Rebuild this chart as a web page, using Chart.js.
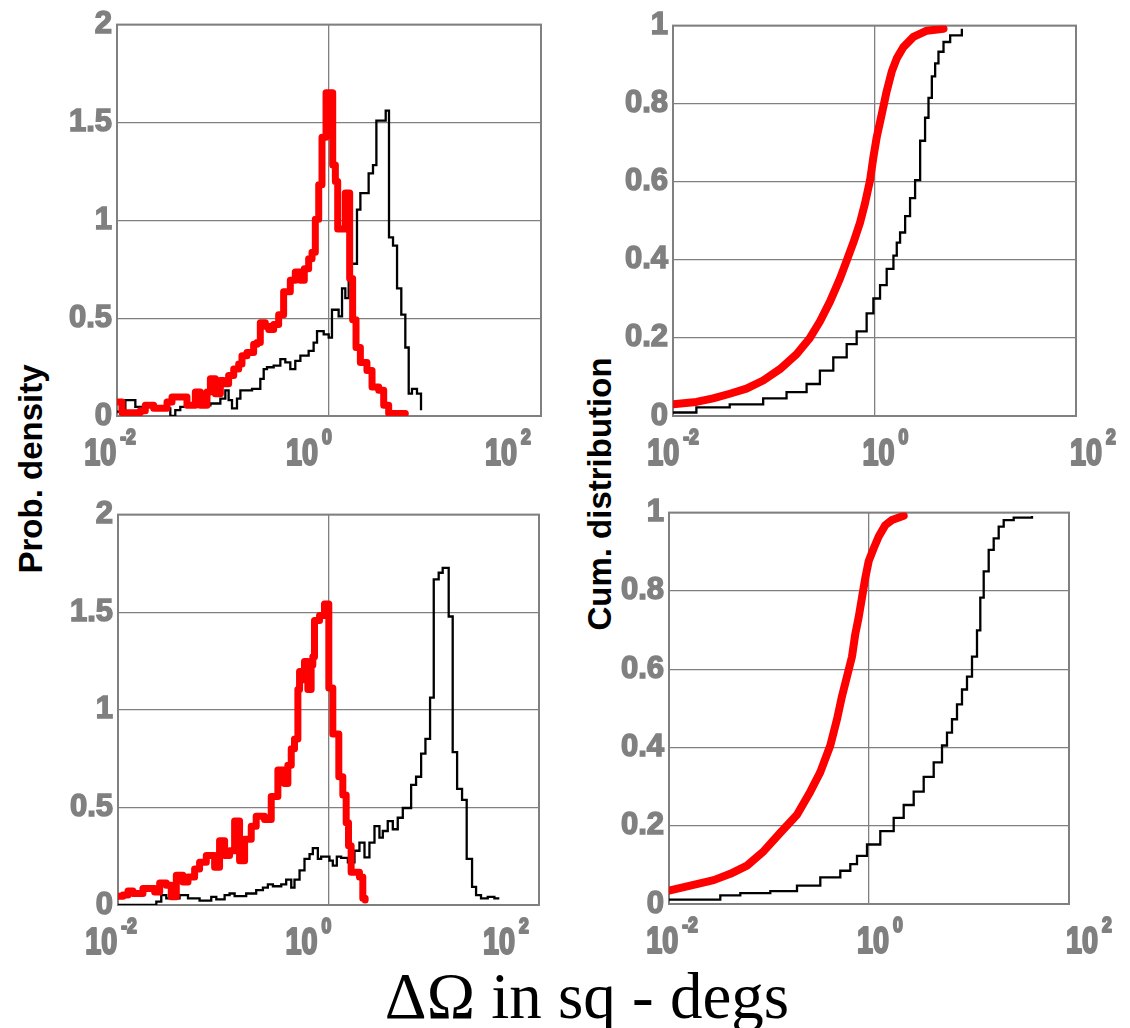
<!DOCTYPE html>
<html>
<head>
<meta charset="utf-8">
<script src="https://cdn.jsdelivr.net/npm/chart.js@4.4.1/dist/chart.umd.min.js"></script>
<style>
  body { margin: 0; background: #fff; width: 1130px; height: 1028px; position: relative; overflow: hidden; }
  canvas { position: absolute; }
  .ytitle {
    position: absolute; white-space: nowrap; line-height: 1;
    font: bold 33px "Liberation Sans", Arial, sans-serif; color: #000;
    transform: translate(-50%, -50%) rotate(-90deg);
  }
  #xtitle {
    position: absolute; left: 587px; top: 959px; white-space: nowrap; line-height: 1;
    font: 65px "Liberation Serif", "Times New Roman", serif; color: #000;
    transform: translateX(-50%);
  }
</style>
</head>
<body>
<div class="ytitle" style="left:31px; top:469px;">Prob. density</div>
<div class="ytitle" style="left:600px; top:494px;">Cum. distribution</div>
<div id="xtitle">ΔΩ in sq - degs</div>

<script>
// ─── Tick labels ──────────────────────────────────────────────────────
const X_TICK_VALUES = [0.01, 1, 100];
const X_TICK_EXPONENTS = ["-2", "0", "2"];
const PDF_Y_MAX = 2, PDF_Y_STEP = 0.5;
const CDF_Y_MAX = 1, CDF_Y_STEP = 0.2;

// ─── Data (x stored as log10 of ΔΩ) ───────────────────────────────────
// top-left: probability density
const tlBlackLogX = [-2.000,-1.921,-1.827,-1.748,-1.654,-1.497,-1.450,-1.403,-1.214,-1.119,-1.025,-0.978,-0.947,-0.915,-0.868,-0.836,-0.726,-0.648,-0.616,-0.585,-0.522,-0.459,-0.412,-0.365,-0.318,-0.270,-0.192,-0.145,-0.113,-0.050,-0.003,0.028,0.091,0.123,0.154,0.186,0.264,0.296,0.374,0.415,0.447,0.535,0.566,0.604,0.642,0.682,0.720,0.752,0.783,0.830,0.868];
const tlBlackY    = [0.022,0.081,0.047,0.055,0.039,0.0,0.030,0.047,0.055,0.064,0.089,0.131,0.081,0.039,0.089,0.131,0.139,0.190,0.240,0.249,0.257,0.291,0.274,0.240,0.282,0.308,0.333,0.375,0.434,0.417,0.400,0.543,0.509,0.652,0.602,0.778,1.055,1.139,1.240,1.282,1.509,1.560,0.913,0.871,0.652,0.518,0.350,0.114,0.139,0.114,0.030];
const tlRedLogX   = [-2.000,-1.953,-1.780,-1.733,-1.654,-1.528,-1.481,-1.340,-1.261,-1.214,-1.151,-1.119,-1.072,-1.025,-0.994,-0.947,-0.899,-0.852,-0.821,-0.774,-0.711,-0.679,-0.648,-0.601,-0.569,-0.522,-0.475,-0.428,-0.365,-0.318,-0.270,-0.233,-0.192,-0.160,-0.129,-0.097,-0.066,-0.028,0.035,0.060,0.082,0.154,0.195,0.223,0.255,0.296,0.358,0.406,0.469,0.516,0.563,0.720];
const tlRedY      = [0.072,0.017,0.027,0.055,0.039,0.072,0.097,0.055,0.123,0.055,0.123,0.190,0.114,0.182,0.165,0.207,0.240,0.266,0.308,0.324,0.366,0.375,0.476,0.459,0.442,0.467,0.518,0.635,0.694,0.736,0.694,0.753,0.803,0.837,1.005,1.182,1.425,1.652,1.282,1.198,0.955,1.139,0.703,0.492,0.350,0.274,0.232,0.148,0.131,0.055,0.013,0.013];

// top-right: cumulative distribution
const trBlackLogX = [-2.000,-1.768,-1.437,-1.105,-0.873,-0.674,-0.542,-0.409,-0.276,-0.177,-0.078,-0.011,0.055,0.121,0.188,0.221,0.254,0.304,0.353,0.403,0.453,0.502,0.536,0.569,0.602,0.635,0.685,0.751,0.867];
const trBlackY    = [0.009,0.022,0.030,0.045,0.061,0.082,0.116,0.150,0.184,0.217,0.263,0.301,0.335,0.377,0.411,0.444,0.470,0.512,0.558,0.604,0.705,0.764,0.815,0.870,0.903,0.933,0.958,0.975,0.992];
const trRedLogX   = [-2.000,-1.768,-1.602,-1.437,-1.271,-1.105,-0.939,-0.774,-0.641,-0.542,-0.442,-0.343,-0.276,-0.210,-0.144,-0.094,-0.044,-0.011,0.022,0.072,0.121,0.171,0.221,0.287,0.386,0.519,0.685];
const trRedY      = [0.030,0.036,0.045,0.057,0.070,0.091,0.120,0.158,0.200,0.242,0.293,0.352,0.398,0.444,0.495,0.545,0.604,0.663,0.714,0.773,0.832,0.882,0.916,0.945,0.971,0.987,0.992];

// bottom-left: probability density
const blBlackLogX = [-2.000,-1.636,-1.589,-1.541,-1.415,-1.335,-1.225,-1.114,-1.066,-0.987,-0.940,-0.892,-0.782,-0.687,-0.623,-0.576,-0.528,-0.449,-0.402,-0.354,-0.323,-0.275,-0.228,-0.180,-0.149,-0.101,-0.070,0.009,0.041,0.079,0.120,0.184,0.247,0.294,0.342,0.389,0.437,0.484,0.516,0.563,0.611,0.658,0.706,0.785,0.832,0.880,0.921,0.965,1.000,1.047,1.085,1.142,1.180,1.222,1.269,1.313,1.364,1.402,1.449,1.513,1.576,1.623];
const blBlackY    = [0.0,0.017,0.051,0.034,0.051,0.034,0.022,0.042,0.029,0.051,0.059,0.045,0.059,0.076,0.089,0.106,0.096,0.106,0.130,0.089,0.130,0.177,0.236,0.261,0.291,0.236,0.248,0.227,0.202,0.248,0.241,0.219,0.278,0.320,0.244,0.320,0.404,0.345,0.379,0.430,0.388,0.447,0.497,0.615,0.657,0.775,0.851,1.062,1.668,1.702,1.727,1.478,0.783,0.595,0.539,0.236,0.093,0.051,0.034,0.042,0.034,0.034];
const blRedLogX   = [-2.000,-1.953,-1.905,-1.858,-1.763,-1.652,-1.604,-1.541,-1.494,-1.446,-1.383,-1.335,-1.272,-1.225,-1.161,-1.082,-1.035,-0.987,-0.940,-0.892,-0.845,-0.797,-0.734,-0.687,-0.608,-0.544,-0.481,-0.418,-0.386,-0.354,-0.323,-0.291,-0.275,-0.259,-0.228,-0.196,-0.165,-0.149,-0.133,-0.085,-0.038,0.003,0.041,0.098,0.136,0.168,0.190,0.215,0.294,0.326,0.348];
const blRedY      = [0.045,0.051,0.072,0.059,0.084,0.067,0.113,0.101,0.042,0.152,0.118,0.143,0.185,0.219,0.253,0.194,0.329,0.253,0.278,0.430,0.227,0.337,0.404,0.455,0.438,0.556,0.691,0.623,0.716,0.800,0.851,1.104,1.196,1.154,1.247,1.104,1.230,1.272,1.457,1.483,1.542,1.112,0.876,0.657,0.564,0.421,0.303,0.168,0.143,0.034,0.025];

// bottom-right: cumulative distribution
const brBlackLogX = [-2.000,-1.603,-1.487,-1.287,-0.987,-0.720,-0.487,-0.287,-0.187,-0.120,-0.020,0.113,0.247,0.347,0.447,0.547,0.647,0.730,0.780,0.830,0.880,0.930,0.980,1.030,1.080,1.113,1.147,1.197,1.247,1.297,1.347,1.447,1.630];
const brBlackY    = [0.011,0.011,0.022,0.028,0.033,0.047,0.068,0.085,0.102,0.123,0.152,0.186,0.220,0.253,0.287,0.325,0.362,0.405,0.438,0.472,0.510,0.548,0.581,0.632,0.699,0.783,0.850,0.905,0.934,0.964,0.981,0.987,0.991];
const brRedLogX   = [-2.000,-1.787,-1.553,-1.387,-1.220,-1.053,-0.887,-0.720,-0.587,-0.487,-0.387,-0.320,-0.270,-0.220,-0.170,-0.137,-0.103,-0.070,-0.037,-0.003,0.047,0.097,0.163,0.230,0.347];
const brRedY      = [0.034,0.047,0.061,0.077,0.098,0.135,0.182,0.228,0.287,0.337,0.405,0.472,0.531,0.581,0.632,0.690,0.733,0.783,0.833,0.876,0.909,0.939,0.968,0.981,0.992];

// ─── Style ────────────────────────────────────────────────────────────
const GRID_COLOR = "#808080";
const LABEL_COLOR = "#808080";
const SANS = '"Liberation Sans", Arial, sans-serif';
const PAD = { left: 65, top: 18, right: 45, bottom: 60 };

// plot area in page pixels [left, top, right, bottom] + x label nudges
const PANELS = [
  { area: [117, 19, 541, 416], yMax: PDF_Y_MAX, yStep: PDF_Y_STEP, redWidth: 7, redStepped: true,
    black: [tlBlackLogX, tlBlackY], red: [tlRedLogX, tlRedY], labelShift: [-7, -20, -33] },
  { area: [673, 20, 1076, 416], yMax: CDF_Y_MAX, yStep: CDF_Y_STEP, redWidth: 8, redStepped: false,
    black: [trBlackLogX, trBlackY], red: [trRedLogX, trRedY], labelShift: [0, 11, 17] },
  { area: [118, 509, 539, 905], yMax: PDF_Y_MAX, yStep: PDF_Y_STEP, redWidth: 7, redStepped: true,
    black: [blBlackLogX, blBlackY], red: [blRedLogX, blRedY], labelShift: [-7, -20, -33] },
  { area: [669, 507, 1069, 904], yMax: CDF_Y_MAX, yStep: CDF_Y_STEP, redWidth: 8, redStepped: false,
    black: [brBlackLogX, brBlackY], red: [brRedLogX, brRedY], labelShift: [3, 11, 20] },
];

function toPoints(logX, ys) {
  return logX.map((e, i) => ({ x: Math.pow(10, e), y: ys[i] }));
}

// grey frame round the plot area
const boxPlugin = {
  id: "box",
  beforeDatasetsDraw(chart) {
    const { ctx, chartArea: a } = chart;
    ctx.save();
    ctx.strokeStyle = GRID_COLOR;
    ctx.lineWidth = 2;
    ctx.strokeRect(a.left, a.top, a.right - a.left, a.bottom - a.top);
    ctx.restore();
  },
};

// "10" with a raised exponent under each x tick (narrow, heavy)
function heavyText(ctx, txt, x, y) {
  ctx.fillText(txt, x, y);
  ctx.strokeText(txt, x, y);
}

const xLabelPlugin = {
  id: "xlabels",
  afterDraw(chart, args, opts) {
    const { ctx, chartArea: a } = chart;
    const xs = chart.scales.x;
    ctx.save();
    ctx.fillStyle = LABEL_COLOR;
    ctx.strokeStyle = LABEL_COLOR;
    ctx.lineWidth = 2.2;
    ctx.lineJoin = "round";
    ctx.textBaseline = "alphabetic";
    ctx.textAlign = "left";
    X_TICK_VALUES.forEach((v, i) => {
      const cx = xs.getPixelForValue(v) + opts.shift[i];
      ctx.save();
      ctx.translate(cx, a.bottom + 49);
      ctx.scale(0.8, 1);
      ctx.font = "bold 36px " + SANS;
      const wBase = ctx.measureText("10").width;
      ctx.font = "bold 22px " + SANS;
      const wExp = ctx.measureText(X_TICK_EXPONENTS[i]).width;
      const x0 = -(wBase + 5 + wExp) / 2;
      ctx.font = "bold 36px " + SANS;
      heavyText(ctx, "10", x0, 0);
      ctx.font = "bold 22px " + SANS;
      heavyText(ctx, X_TICK_EXPONENTS[i], x0 + wBase + 5, -21);
      ctx.restore();
    });
    ctx.restore();
  },
};

function makePanel(p) {
  const [l, t, r, b] = p.area;
  const cv = document.createElement("canvas");
  cv.width = r - l + PAD.left + PAD.right;
  cv.height = b - t + PAD.top + PAD.bottom;
  cv.style.left = (l - PAD.left) + "px";
  cv.style.top = (t - PAD.top) + "px";
  document.body.appendChild(cv);

  new Chart(cv.getContext("2d"), {
    type: "line",
    data: {
      datasets: [
        {
          data: toPoints(p.red[0], p.red[1]),
          borderColor: "#ff0000",
          borderWidth: p.redWidth,
          stepped: p.redStepped,
          borderJoinStyle: "round",
          borderCapStyle: "round",
          pointRadius: 0,
          fill: false,
        },
        {
          data: toPoints(p.black[0], p.black[1]),
          borderColor: "#000000",
          borderWidth: 2.3,
          stepped: true,
          pointRadius: 0,
          fill: false,
        },
      ],
    },
    options: {
      responsive: false,
      animation: false,
      events: [],
      layout: { padding: { left: 0, top: PAD.top, right: PAD.right, bottom: 0 } },
      plugins: {
        legend: { display: false },
        tooltip: { enabled: false },
        xlabels: { shift: p.labelShift },
      },
      scales: {
        x: {
          type: "logarithmic",
          min: 0.01,
          max: 100,
          afterBuildTicks: (s) => { s.ticks = X_TICK_VALUES.map((v) => ({ value: v })); },
          afterFit: (s) => { s.height = PAD.bottom; },
          ticks: { display: false },
          grid: { color: GRID_COLOR, lineWidth: 1.3, drawTicks: false },
          border: { display: false },
        },
        y: {
          min: 0,
          max: p.yMax,
          afterFit: (s) => { s.width = PAD.left; },
          ticks: {
            stepSize: p.yStep,
            padding: 5,
            color: LABEL_COLOR,
            textStrokeColor: LABEL_COLOR,
            textStrokeWidth: 1.5,
            font: { family: SANS, size: 31, weight: "bold" },
            callback: (v) => String(Math.round(v * 10) / 10),
          },
          grid: { color: GRID_COLOR, lineWidth: 1.3, drawTicks: false },
          border: { display: false },
        },
      },
    },
    plugins: [boxPlugin, xLabelPlugin],
  });
}

PANELS.forEach(makePanel);
</script>
</body>
</html>
